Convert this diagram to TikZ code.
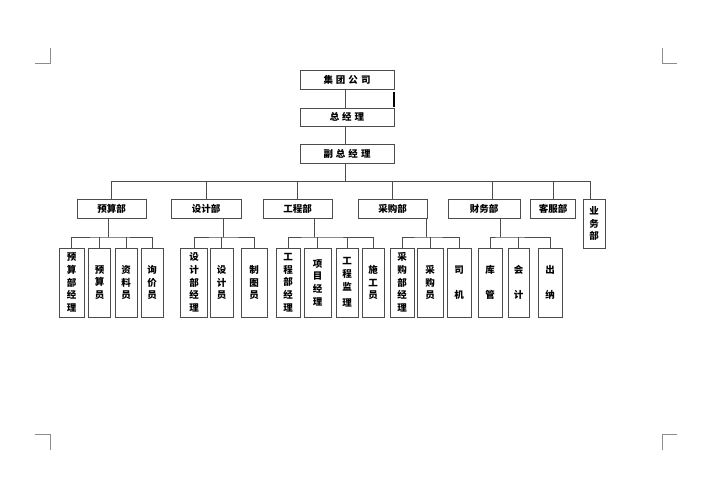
\documentclass[tikz,border=0pt]{standalone}
\usepackage{fontspec}
\newfontfamily\cjk{Noto Sans CJK SC}
\begin{document}
\begin{tikzpicture}[x=1pt,y=-1pt,
  box/.style={draw=black!70,line width=0.8pt,inner sep=0pt,fill=white,
    font=\cjk\bfseries\fontsize{9.5}{12.7}\selectfont,align=center},
  ln/.style={draw=black!70,line width=0.8pt},
  crop/.style={draw=black!45,line width=0.8pt}]
\useasboundingbox (0,0) rectangle (717,488);
% crop marks
\draw[crop] (35,63) -- (50,63) -- (50,48);
\draw[crop] (677,63) -- (662,63) -- (662,48);
\draw[crop] (35,434) -- (50,434) -- (50,450);
\draw[crop] (677,434) -- (662,434) -- (662,450);
% top chain
\node[box,minimum width=94,minimum height=19] (jt) at (347,79.5) {集\hspace{3pt}团\hspace{3pt}公\hspace{3pt}司};
\node[box,minimum width=94,minimum height=18] (zj) at (347,117) {总\hspace{3pt}经\hspace{3pt}理};
\node[box,minimum width=94,minimum height=19] (fz) at (347,153.5) {副\hspace{3pt}总\hspace{3pt}经\hspace{3pt}理};
\coordinate (bus) at (345,181);
\coordinate (tick) at (394,92);
\draw[ln] (jt.south -| bus) -- (zj.north -| bus);
\draw[ln] (zj.south -| bus) -- (fz.north -| bus);
\draw[ln] (fz.south -| bus) -- (bus);
\draw[draw=black,line width=1.2pt] (tick) -- ++(0,15);
% departments
\node[box,minimum width=69,minimum height=19] (ys) at (111.5,208.5) {预算部};
\node[box,minimum width=70,minimum height=19] (sj) at (206,208.5) {设计部};
\node[box,minimum width=69,minimum height=19] (gc) at (297.5,208.5) {工程部};
\node[box,minimum width=69,minimum height=19] (cg) at (392.5,208.5) {采购部};
\node[box,minimum width=72,minimum height=19] (cw) at (484,208.5) {财务部};
\node[box,minimum width=45,minimum height=19] (kf) at (553,208.5) {客服部};
\node[box,minimum width=22,minimum height=49] (yw) at (594,223.5) {业\\务\\部};
\draw[ln] (ys.north) |- (bus);
\draw[ln] (sj.north) |- (bus);
\draw[ln] (gc.north) |- (bus);
\draw[ln] (cg.north) |- (bus);
\draw[ln] ([xshift=8pt]cw.north) |- (bus);
\draw[ln] (kf.north) |- (bus);
\draw[ln] ([xshift=-4pt]yw.north) |- (bus);
% children: 预算部
\node[box,minimum width=25,minimum height=69] (y1) at (71.5,282.5) {预\\算\\部\\经\\理};
\node[box,minimum width=22,minimum height=69] (y2) at (99.5,282.5) {预\\算\\员};
\node[box,minimum width=22,minimum height=69] (y3) at (126,282.5) {资\\料\\员};
\node[box,minimum width=22,minimum height=69] (y4) at (152,282.5) {询\\价\\员};
\coordinate (ysj) at (108,237);
\draw[ln] (ys.south -| ysj) -- (ysj);
\draw[ln] (y1.north) |- (ysj) -| (y4.north);
\draw[ln] (y2.north) -- (y2.north |- ysj);
\draw[ln] (y3.north) -- (y3.north |- ysj);
% 设计部
\node[box,minimum width=27,minimum height=69] (s1) at (194,282.5) {设\\计\\部\\经\\理};
\node[box,minimum width=23,minimum height=69] (s2) at (221.5,282.5) {设\\计\\员};
\node[box,minimum width=26,minimum height=69] (s3) at (254,282.5) {制\\图\\员};
\coordinate (sjj) at (223,237);
\draw[ln] (sj.south -| sjj) -- (sjj);
\draw[ln] (s1.north) |- (sjj) -| (s3.north);
\draw[ln] (s2.north) -- (s2.north |- sjj);
% 工程部
\node[box,minimum width=24,minimum height=69] (g1) at (288,282.5) {工\\程\\部\\经\\理};
\node[box,minimum width=27,minimum height=69] (g2) at (317.5,282.5) {项\\目\\经\\理};
\node[box,minimum width=22,minimum height=69] (g3) at (347,282.5) {工\\程\\监\\[4pt]理};
\node[box,minimum width=22,minimum height=69] (g4) at (373,282.5) {施\\工\\员};
\coordinate (gcj) at (314,237);
\draw[ln] (gc.south -| gcj) -- (gcj);
\draw[ln] (g1.north) |- (gcj) -| (g4.north);
\draw[ln] (g2.north) -- (g2.north |- gcj);
\draw[ln] (g3.north) -- (g3.north |- gcj);
% 采购部
\node[box,minimum width=24,minimum height=69] (c1) at (402,282.5) {采\\购\\部\\经\\理};
\node[box,minimum width=26,minimum height=69] (c2) at (430,282.5) {采\\购\\员};
\node[box,minimum width=24,minimum height=69] (c3) at (459,282.5) {司\\[12.7pt]机};
\coordinate (cgj) at (426,237);
\draw[ln] (cg.south -| cgj) -- (cgj);
\draw[ln] (c1.north) |- (cgj) -| (c3.north);
\draw[ln] (c2.north) -- (c2.north |- cgj);
% 财务部
\node[box,minimum width=24,minimum height=69] (f1) at (490,282.5) {库\\[12.7pt]管};
\node[box,minimum width=21,minimum height=69] (f2) at (518.5,282.5) {会\\[12.7pt]计};
\node[box,minimum width=24,minimum height=69] (f3) at (550,282.5) {出\\[12.7pt]纳};
\coordinate (cwj) at (500,237);
\draw[ln] (cw.south -| cwj) -- (cwj);
\draw[ln] (f1.north) |- (cwj) -| (f3.north);
\draw[ln] (f2.north) -- (f2.north |- cwj);
\end{tikzpicture}
\end{document}
